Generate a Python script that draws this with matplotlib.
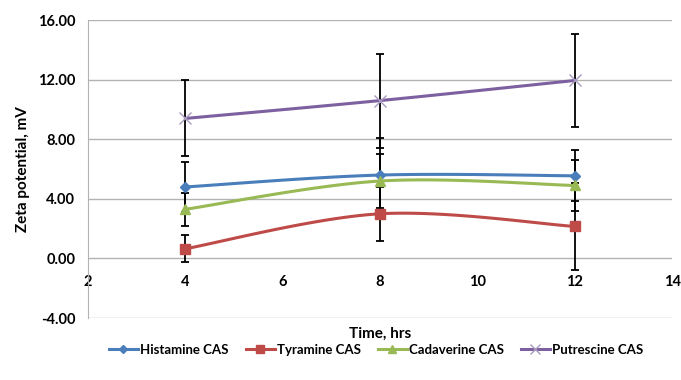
import numpy as np
import matplotlib.pyplot as plt

# datos
time_hrs = [4, 8, 12]
histamine = [4.8, 5.6, 5.55]
tyramine = [0.65, 3.0, 2.15]
cadaverine = [3.3, 5.2, 4.9]
putrescine = [9.4, 10.6, 11.95]

histamine_err = [1.65, 2.5, 1.7]
tyramine_err = [0.9, 1.8, 2.95]
cadaverine_err = [1.12, 1.8, 1.7]
putrescine_err = [2.55, 3.15, 3.1]

series_names = ["Histamine CAS", "Tyramine CAS", "Cadaverine CAS", "Putrescine CAS"]
y_ticks = [-4, 0, 4, 8, 12, 16]
x_ticks = [2, 4, 6, 8, 10, 12, 14]


# curva suavizada tipo Excel (Catmull-Rom) entre los puntos medidos
def suavizar(x, y, n=40):
    x = np.asarray(x, float)
    y = np.asarray(y, float)
    px = np.concatenate([[x[0]], x, [x[-1]]])
    py = np.concatenate([[y[0]], y, [y[-1]]])
    xs, ys = [], []
    for i in range(1, len(px) - 2):
        t = np.linspace(0, 1, n)
        for p, out in ((px, xs), (py, ys)):
            p0, p1, p2, p3 = p[i - 1], p[i], p[i + 1], p[i + 2]
            out.append(0.5 * ((2 * p1) + (-p0 + p2) * t
                              + (2 * p0 - 5 * p1 + 4 * p2 - p3) * t ** 2
                              + (-p0 + 3 * p1 - 3 * p2 + p3) * t ** 3))
    return np.concatenate(xs), np.concatenate(ys)


plt.rcParams['font.family'] = ['Lato', 'DejaVu Sans']
plt.rcParams['font.weight'] = 'bold'

fig = plt.figure(figsize=(6.81, 3.80), dpi=100)
ax = fig.add_axes([0.129, 0.163, 0.858, 0.784])

datos = [histamine, tyramine, cadaverine, putrescine]
errores = [histamine_err, tyramine_err, cadaverine_err, putrescine_err]
colores = ['#4a7ebb', '#be4b48', '#98b954', '#7d60a0']
marcadores = ['D', 's', '^', 'x']
tamanos = [5, 7, 7, 8]

for y, e in zip(datos, errores):
    ax.errorbar(time_hrs, y, yerr=e, fmt='none', ecolor='black',
                elinewidth=1.3, capsize=3, capthick=1.3, zorder=3)

handles = []
for y, c, m, s, nombre in zip(datos, colores, marcadores, tamanos, series_names):
    sx, sy = suavizar(time_hrs, y)
    ax.plot(sx, sy, color=c, lw=2.2, zorder=4, solid_capstyle='round')
    if m == 'x':
        ax.plot(time_hrs, y, ls='none', marker=m, ms=s, mec='#a99bbf',
                mew=1.0, zorder=5)
        h, = ax.plot([], [], color=c, lw=2.2, marker=m, ms=s - 1, mec='#a99bbf', mew=1.0)
    else:
        ax.plot(time_hrs, y, ls='none', marker=m, ms=s, color=c, zorder=5)
        h, = ax.plot([], [], color=c, lw=2.2, marker=m, ms=s - 1)
    handles.append(h)

ax.set_xlim(2, 14)
ax.set_ylim(-4, 16)
ax.set_xticks(x_ticks)
ax.set_yticks(y_ticks)
ax.set_yticklabels(["%.2f" % v for v in y_ticks])

# cuadricula
ax.grid(True, axis='y', color='#b3b3b3', lw=1.0)
ax.set_axisbelow(True)

for s in ['top', 'right']:
    ax.spines[s].set_visible(False)
ax.spines['left'].set_color('#b3b3b3')
ax.spines['bottom'].set_position(('data', 0))
ax.spines['bottom'].set_visible(False)
ax.tick_params(axis='x', length=0, pad=12, labelsize=10.5)
ax.tick_params(axis='y', length=0, pad=9, labelsize=10.5)

ax.set_ylabel("Zeta potential, mV", fontsize=11, fontweight='bold', labelpad=6)
ax.set_xlabel("Time, hrs", fontsize=11, fontweight='bold')
ax.xaxis.set_label_coords(0.5, -0.028)
ax.xaxis.label.set_va('top')

fig.legend(handles, series_names, loc='center', bbox_to_anchor=(376 / 681, 1 - 350 / 380),
           ncol=4, frameon=False, fontsize=9.5, handlelength=2.2, columnspacing=1.3,
           handletextpad=0.15)

plt.savefig("out.png")
